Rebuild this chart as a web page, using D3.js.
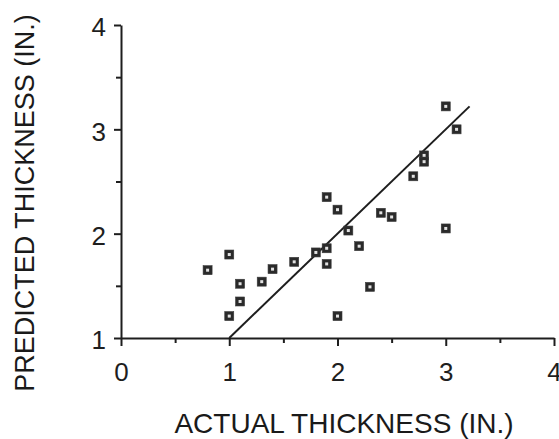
<!DOCTYPE html>
<html>
<head>
<meta charset="utf-8">
<script src="https://cdn.jsdelivr.net/npm/d3@7"></script>
<style>
  html, body { margin: 0; padding: 0; background: #fff; }
  svg { display: block; }
  text { font-family: "Liberation Sans", Arial, Helvetica, sans-serif; fill: #1a1a1a; }
</style>
</head>
<body>
<script>
// Data
const actual    = [0.8, 1.0, 1.0, 1.1, 1.1, 1.3, 1.4, 1.6, 1.8, 1.9, 1.9, 1.9, 2.0, 2.0, 2.1, 2.2, 2.3, 2.4, 2.5, 2.7, 2.8, 2.8, 3.0, 3.1, 3.0];
const predicted = [1.65, 1.80, 1.21, 1.52, 1.35, 1.54, 1.66, 1.73, 1.82, 1.86, 1.71, 2.35, 2.23, 1.21, 2.03, 1.88, 1.49, 2.20, 2.16, 2.55, 2.75, 2.69, 3.22, 3.00, 2.05];
const lineX = [1.0, 3.22];
const lineY = [1.0, 3.22];
const xTicks = [0, 1, 2, 3, 4];
const yTicks = [1, 2, 3, 4];
const xMinor = [0.5, 1.5, 2.5, 3.5];
const yMinor = [1.5, 2.5, 3.5];
const xTitle = "ACTUAL THICKNESS (IN.)";
const yTitle = "PREDICTED THICKNESS (IN.)";

const W = 559, H = 439;
const svg = d3.select("body").append("svg").attr("width", W).attr("height", H);

const x = d3.scaleLinear().domain([0, 4]).range([121, 554]);
const y = d3.scaleLinear().domain([1, 4]).range([338, 25]);

const ink = "#1e1e1e";

// Minor ticks
svg.append("g").attr("transform", `translate(0,${y(1)})`)
  .call(d3.axisBottom(x).tickValues(xMinor).tickSize(5).tickFormat(""))
  .call(g => g.select(".domain").remove())
  .call(g => g.selectAll("line").attr("stroke", ink).attr("stroke-width", 2));
svg.append("g").attr("transform", `translate(${x(0)},0)`)
  .call(d3.axisLeft(y).tickValues(yMinor).tickSize(5).tickFormat(""))
  .call(g => g.select(".domain").remove())
  .call(g => g.selectAll("line").attr("stroke", ink).attr("stroke-width", 2));

// Major x axis
const gx = svg.append("g").attr("transform", `translate(0,${y(1)})`)
  .call(d3.axisBottom(x).tickValues(xTicks).tickSize(8).tickPadding(17).tickSizeOuter(0).tickFormat(d3.format("d")));
gx.select(".domain").attr("stroke", ink).attr("stroke-width", 2);
gx.selectAll("line").attr("stroke", ink).attr("stroke-width", 2);
gx.selectAll("text").attr("font-size", 26).style("fill", ink);

// Major y axis
const gy = svg.append("g").attr("transform", `translate(${x(0)},0)`)
  .call(d3.axisLeft(y).tickValues(yTicks).tickSize(7).tickPadding(8).tickSizeOuter(0).tickFormat(d3.format("d")));
gy.select(".domain").attr("stroke", ink).attr("stroke-width", 2);
gy.selectAll("line").attr("stroke", ink).attr("stroke-width", 2);
gy.selectAll("text").attr("font-size", 26).attr("dy", "0.42em").style("fill", ink);

// 1:1 line
svg.append("line")
  .attr("x1", x(lineX[0])).attr("y1", y(lineY[0]))
  .attr("x2", x(lineX[1])).attr("y2", y(lineY[1]))
  .attr("stroke", ink).attr("stroke-width", 2);

// Markers
const pts = actual.map((a, i) => ({ a, p: predicted[i] }));
const mk = svg.append("g").selectAll("g").data(pts).join("g")
  .attr("transform", d => `translate(${x(d.a)},${y(d.p)})`);
mk.append("rect").attr("x", -4.5).attr("y", -4.5).attr("width", 9).attr("height", 9)
  .attr("fill", "#2a2a2a").attr("stroke", "#3a3a3a").attr("stroke-width", 0.6);
mk.append("rect").attr("x", -1.5).attr("y", -1.5).attr("width", 3).attr("height", 3)
  .attr("fill", "#e2e2e2");

// Axis titles
svg.append("text")
  .attr("x", 344).attr("y", 433)
  .attr("text-anchor", "middle").attr("font-size", 28)
  .text(xTitle);
svg.append("text")
  .attr("transform", `translate(34,203) rotate(-90)`)
  .attr("text-anchor", "middle").attr("font-size", 27)
  .text(yTitle);
</script>
</body>
</html>
